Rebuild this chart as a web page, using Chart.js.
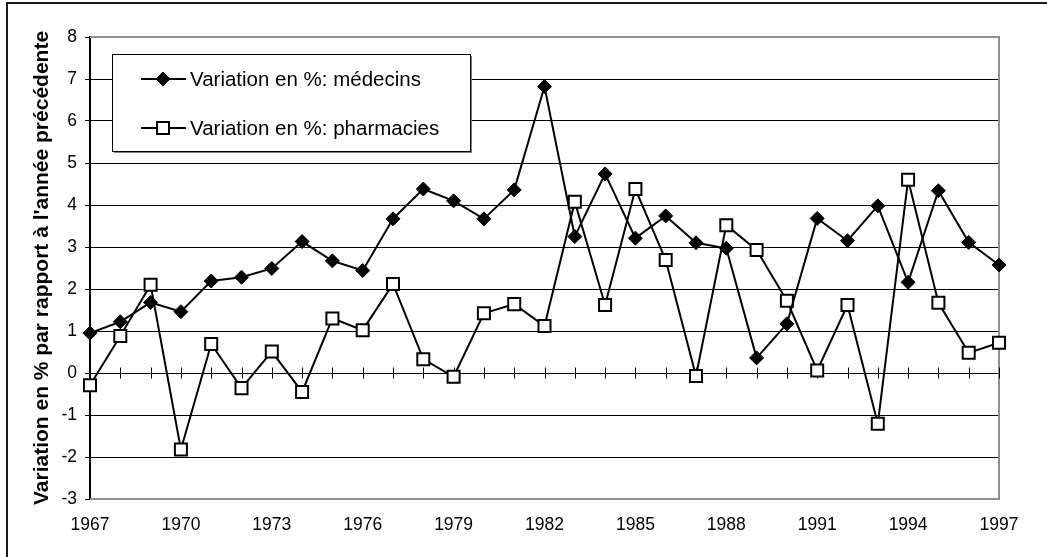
<!DOCTYPE html>
<html>
<head>
<meta charset="utf-8">
<script src="https://cdn.jsdelivr.net/npm/chart.js@4/dist/chart.umd.min.js"></script>
<style>
  html, body { margin: 0; padding: 0; background: #fff; }
  #wrap { width: 1047px; height: 557px; position: relative; }
</style>
</head>
<body>
<div id="wrap"><canvas id="c" width="1047" height="557"></canvas></div>
<script>
const years = [1967,1968,1969,1970,1971,1972,1973,1974,1975,1976,1977,1978,1979,1980,1981,1982,1983,1984,1985,1986,1987,1988,1989,1990,1991,1992,1993,1994,1995,1996,1997];
const medecins = [0.95,1.22,1.68,1.46,2.19,2.28,2.49,3.13,2.67,2.44,3.67,4.38,4.10,3.67,4.36,6.82,3.25,4.74,3.21,3.74,3.10,2.97,0.36,1.17,3.68,3.15,3.98,2.16,4.34,3.11,2.57];
const pharmacies = [-0.29,0.88,2.10,-1.82,0.69,-0.36,0.51,-0.45,1.30,1.02,2.12,0.33,-0.09,1.42,1.64,1.12,4.08,1.62,4.38,2.69,-0.07,3.52,2.93,1.72,0.06,1.62,-1.21,4.60,1.67,0.48,0.72];
const xTickLabels = ["1967","1970","1973","1976","1979","1982","1985","1988","1991","1994","1997"];
const seriesLabels = ["Variation en %: médecins", "Variation en %: pharmacies"];
const yTitle = "Variation en % par rapport à l'année précédente";

const FONT = "'Liberation Sans', Arial, sans-serif";

const decorPlugin = {
  id: 'decor',
  beforeDatasetsDraw(chart) {
    const ctx = chart.ctx;
    const a = chart.chartArea;
    const xs = chart.scales.x, ys = chart.scales.y;
    ctx.save();
    ctx.strokeStyle = '#8f8f8f';
    ctx.lineWidth = 2;
    ctx.beginPath();
    ctx.moveTo(a.left, a.top);
    ctx.lineTo(a.right, a.top);
    ctx.lineTo(a.right, a.bottom);
    ctx.lineTo(a.left, a.bottom);
    ctx.stroke();
    const y0 = ys.getPixelForValue(0);
    ctx.strokeStyle = '#000';
    ctx.lineWidth = 1;
    ctx.beginPath();
    for (let i = 0; i < years.length; i++) {
      const x = Math.round(xs.getPixelForValue(i)) + 0.5;
      ctx.moveTo(x, y0 - 5.5);
      ctx.lineTo(x, y0 + 5.5);
    }
    ctx.stroke();
    ctx.restore();
  },
  afterDraw(chart) {
    const ctx = chart.ctx;
    ctx.save();
    ctx.strokeStyle = '#1a1a1a';
    ctx.lineWidth = 2;
    ctx.strokeRect(7, 3, 1100, 600);
    const bx = 112, by = 54, bw = 358, bh = 97;
    ctx.fillStyle = '#808080';
    ctx.fillRect(bx + 2, by + bh, bw, 2);
    ctx.fillRect(bx + bw, by + 2, 2, bh);
    ctx.fillStyle = '#fff';
    ctx.fillRect(bx, by, bw, bh);
    ctx.strokeStyle = '#000';
    ctx.lineWidth = 1;
    ctx.strokeRect(bx + 0.5, by + 0.5, bw, bh);
    const rows = [79, 128];
    chart.data.datasets.forEach((ds, i) => {
      const y = rows[i];
      ctx.strokeStyle = '#000';
      ctx.lineWidth = 2;
      ctx.beginPath();
      ctx.moveTo(141, y);
      ctx.lineTo(186, y);
      ctx.stroke();
      ctx.fillStyle = ds.pointBackgroundColor;
      ctx.strokeStyle = ds.pointBorderColor;
      ctx.lineWidth = ds.pointBorderWidth;
      ctx.beginPath();
      if (ds.pointStyle === 'rectRot') {
        const r = ds.pointRadius;
        ctx.moveTo(163, y - r); ctx.lineTo(163 + r, y); ctx.lineTo(163, y + r); ctx.lineTo(163 - r, y); ctx.closePath();
      } else {
        const s = ds.pointRadius * Math.SQRT1_2;
        ctx.rect(163 - s, y - s, 2 * s, 2 * s);
      }
      ctx.fill();
      ctx.stroke();
      ctx.fillStyle = '#000';
      ctx.font = "20.5px " + FONT;
      ctx.textBaseline = 'middle';
      ctx.textAlign = 'left';
      ctx.fillText(ds.label, 190, y + 1);
    });
    ctx.restore();
  }
};

new Chart(document.getElementById('c'), {
  type: 'line',
  data: {
    labels: years.map(String),
    datasets: [
      {
        label: seriesLabels[0],
        data: medecins,
        borderColor: '#000',
        borderWidth: 2,
        pointStyle: 'rectRot',
        pointRadius: 7,
        pointHoverRadius: 7,
        pointBackgroundColor: '#000',
        pointBorderColor: '#000',
        pointBorderWidth: 1,
        tension: 0,
        fill: false
      },
      {
        label: seriesLabels[1],
        data: pharmacies,
        borderColor: '#000',
        borderWidth: 2,
        pointStyle: 'rect',
        pointRadius: 8.5,
        pointHoverRadius: 8.5,
        pointBackgroundColor: '#fff',
        pointBorderColor: '#000',
        pointBorderWidth: 2,
        tension: 0,
        fill: false
      }
    ]
  },
  options: {
    responsive: false,
    animation: false,
    devicePixelRatio: 1,
    layout: { padding: { left: 8, right: 48, top: 37, bottom: 0 } },
    plugins: {
      legend: { display: false },
      tooltip: { enabled: false }
    },
    scales: {
      x: {
        type: 'category',
        offset: false,
        grid: { display: false, drawTicks: false },
        border: { display: false },
        ticks: {
          autoSkip: false,
          maxRotation: 0,
          padding: 16,
          color: '#000',
          font: { family: FONT, size: 17.5 },
          callback: function(value) {
            const lab = this.getLabelForValue(value);
            return xTickLabels.includes(lab) ? lab : '';
          }
        },
        afterFit(scale) { scale.height = 58; }
      },
      y: {
        min: -3,
        max: 8,
        grid: {
          color: (c) => (c.tick && (c.tick.value === 8 || c.tick.value === -3)) ? 'rgba(0,0,0,0)' : '#000',
          tickColor: '#000',
          tickLength: 5,
          lineWidth: 1
        },
        border: { display: true, color: '#000', width: 2 },
        ticks: {
          stepSize: 1,
          padding: 8,
          color: '#000',
          font: { family: FONT, size: 17.5 }
        },
        title: {
          display: true,
          text: yTitle,
          color: '#000',
          font: { family: FONT, size: 21, weight: 'bold' },
          padding: { top: 22, bottom: 0 }
        },
        afterFit(scale) { scale.width = 82; }
      }
    }
  },
  plugins: [decorPlugin]
});
</script>
</body>
</html>
